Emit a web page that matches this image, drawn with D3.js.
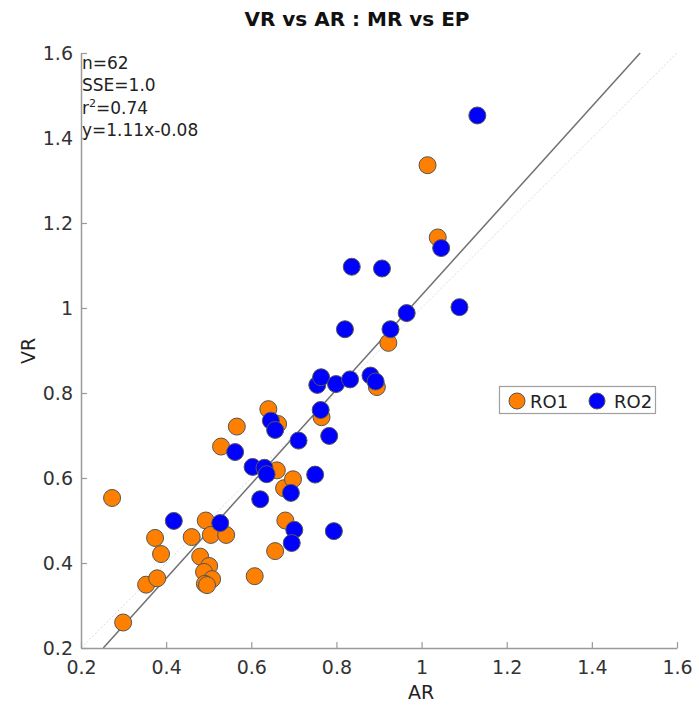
<!DOCTYPE html>
<html><head><meta charset="utf-8">
<script src="https://cdn.jsdelivr.net/npm/d3@7"></script>
<style>body{margin:0;background:#fff}</style>
</head><body><svg id="c" width="699" height="716"></svg>
<script>
// ---- data ----
const ro1X = [0.273,0.299,0.353,0.379,0.374,0.388,0.460,0.480,0.501,0.489,0.508,0.491,0.496,0.493,0.505,0.541,0.529,0.566,0.608,0.640,0.660,0.656,0.677,0.698,0.680,0.765,0.895,0.922,1.038,1.014,0.663];
const ro1Y = [0.553,0.260,0.349,0.364,0.459,0.421,0.461,0.415,0.393,0.379,0.362,0.351,0.348,0.500,0.466,0.466,0.674,0.721,0.369,0.762,0.618,0.428,0.576,0.597,0.500,0.743,0.814,0.918,1.166,1.336,0.727];
const ro2X = [0.418,0.527,0.562,0.603,0.621,0.631,0.636,0.646,0.656,0.693,0.701,0.695,0.711,0.750,0.783,0.794,0.763,0.755,0.764,0.799,0.832,0.880,0.892,0.820,0.927,0.965,0.836,0.907,1.089,1.046,1.131];
const ro2Y = [0.499,0.494,0.661,0.626,0.550,0.624,0.609,0.735,0.713,0.565,0.478,0.447,0.688,0.608,0.699,0.475,0.760,0.819,0.837,0.821,0.832,0.841,0.827,0.950,0.950,0.988,1.097,1.093,1.002,1.141,1.453];
const xTicks = [0.2,0.4,0.6,0.8,1.0,1.2,1.4,1.6];
const yTicks = [0.2,0.4,0.6,0.8,1.0,1.2,1.4,1.6];
const tickLabels = ["0.2","0.4","0.6","0.8","1","1.2","1.4","1.6"];
const seriesNames = ["RO1","RO2"];
const seriesColors = ["#ff8000","#0000ff"];
const fitSlope = 1.11, fitIntercept = -0.08;
const statN = "n=62", statSSE = "SSE=1.0", statR2 = "0.74", statEq = "y=1.11x-0.08";
const titleText = "VR vs AR : MR vs EP", xLabel = "AR", yLabel = "VR";

// ---- layout ----
const L = 81, R = 677, T = 53, B = 648;
const font = "'DejaVu Sans', sans-serif";
const svg = d3.select("#c");
const x = d3.scaleLinear().domain([0.2,1.6]).range([L,R]);
const y = d3.scaleLinear().domain([0.2,1.6]).range([B,T]);

// identity line
svg.append("line")
  .attr("x1", x(0.2)).attr("y1", y(0.2)).attr("x2", x(1.6)).attr("y2", y(1.6))
  .attr("stroke", "#dcdcdc").attr("stroke-width", 1).attr("stroke-dasharray", "2,2");

// fit line clipped to [0.2,1.6] in y
const fx0 = (0.2 - fitIntercept) / fitSlope, fx1 = (1.6 - fitIntercept) / fitSlope;
svg.append("line")
  .attr("x1", x(fx0)).attr("y1", y(fitSlope*fx0+fitIntercept))
  .attr("x2", x(fx1)).attr("y2", y(fitSlope*fx1+fitIntercept))
  .attr("stroke", "#707070").attr("stroke-width", 1.5);

// axes
const xAxis = d3.axisBottom(x).tickValues(xTicks).tickFormat((d,i)=>tickLabels[i]).tickSizeInner(-6).tickSizeOuter(0).tickPadding(13);
const yAxis = d3.axisLeft(y).tickValues(yTicks).tickFormat((d,i)=>tickLabels[i]).tickSizeInner(-6).tickSizeOuter(0).tickPadding(8);
const gx = svg.append("g").attr("transform", `translate(0,${B})`).call(xAxis);
const gy = svg.append("g").attr("transform", `translate(${L},0)`).call(yAxis);
[gx, gy].forEach(g => {
  g.select(".domain").attr("stroke", "#9a9a9a").attr("stroke-width", 1.5);
  g.selectAll(".tick line").attr("stroke", "#9a9a9a").attr("stroke-width", 1.2);
  g.selectAll(".tick text").attr("fill", "#333").style("font-family", font).style("font-size", "19px");
});

// points
function drawSeries(xs, ys, color) {
  svg.append("g").selectAll("circle").data(xs.map((v,i)=>[v, ys[i]])).join("circle")
    .attr("cx", d => x(d[0])).attr("cy", d => y(d[1])).attr("r", 8.5)
    .attr("fill", color).attr("stroke", "#555").attr("stroke-width", 1);
}
drawSeries(ro1X, ro1Y, seriesColors[0]);
drawSeries(ro2X, ro2Y, seriesColors[1]);

// stats text
const st = svg.append("g").style("font-family", font).style("font-size", "17px").attr("fill", "#222");
st.append("text").attr("x", 82).attr("y", 69).text(statN);
st.append("text").attr("x", 82).attr("y", 91).text(statSSE);
const r2 = st.append("text").attr("x", 82).attr("y", 114);
r2.append("tspan").text("r");
r2.append("tspan").attr("dy", -7).style("font-size", "11px").text("2");
r2.append("tspan").attr("dy", 7).text("=" + statR2);
st.append("text").attr("x", 82).attr("y", 136).text(statEq);

// title and labels
svg.append("text").attr("x", 357).attr("y", 26).attr("text-anchor", "middle")
  .style("font-family", font).style("font-size", "20px").style("font-weight", "bold").attr("fill", "#111").text(titleText);
svg.append("text").attr("x", 421).attr("y", 699).attr("text-anchor", "middle")
  .style("font-family", font).style("font-size", "19px").attr("fill", "#222").text(xLabel);
svg.append("text").attr("transform", "translate(35,351) rotate(-90)").attr("text-anchor", "middle")
  .style("font-family", font).style("font-size", "19px").attr("fill", "#222").text(yLabel);

// legend
const lg = svg.append("g");
lg.append("rect").attr("x", 499.5).attr("y", 386.5).attr("width", 156).attr("height", 27)
  .attr("fill", "#fff").attr("stroke", "#a0a0a0").attr("stroke-width", 1.2);
const legX = [517, 597], legT = [530, 614];
seriesNames.forEach((n, i) => {
  lg.append("circle").attr("cx", legX[i]).attr("cy", 401).attr("r", 8)
    .attr("fill", seriesColors[i]).attr("stroke", "#555").attr("stroke-width", 1);
  lg.append("text").attr("x", legT[i]).attr("y", 408).text(n)
    .style("font-family", font).style("font-size", "18px").attr("fill", "#222");
});
</script>
</body></html>
